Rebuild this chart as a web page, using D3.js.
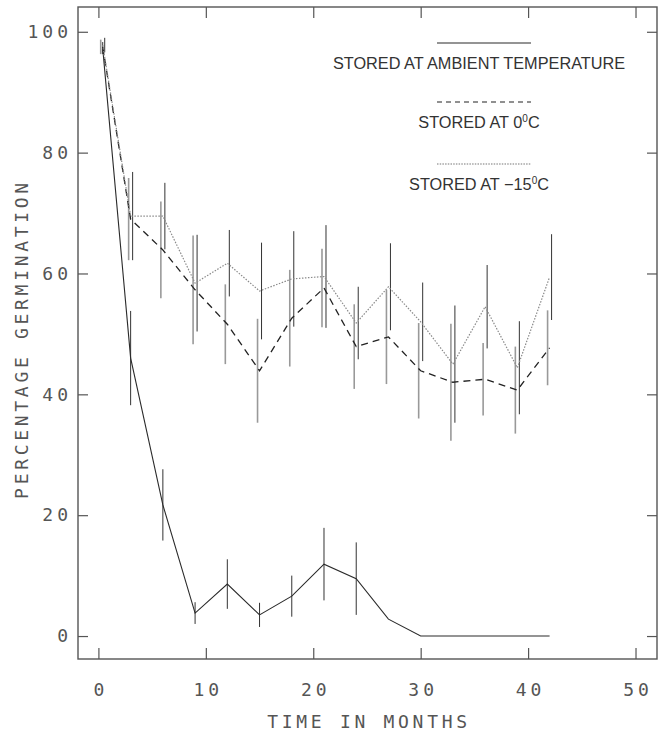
<!DOCTYPE html>
<html>
<head>
<meta charset="utf-8">
<script src="https://cdn.jsdelivr.net/npm/d3@7"></script>
<style>
  body { margin: 0; background: #fff; }
  .mono { font-family: "DejaVu Sans Mono", monospace; fill: #555; font-feature-settings: "zero"; }
  .legend text { font-family: "Liberation Sans", Arial, sans-serif; fill: #333; font-size: 16.3px; }
</style>
</head>
<body>
<script>
// Data
const monthTicks = [0, 10, 20, 30, 40, 50];
const pctTicks = [0, 20, 40, 60, 80, 100];

// stored at ambient temperature (solid)
const ambientMonths = [0.4, 3, 6, 9, 12, 15, 18, 21, 24, 27, 30, 42];
const ambientPct    = [97.3, 46, 21.7, 3.8, 8.6, 3.5, 6.6, 11.9, 9.5, 2.8, 0, 0];
const ambientErr    = [1, 7.8, 5.9, 1.8, 4.1, 2, 3.4, 6, 6, 0, 0, 0];

// stored at 0 C (dashed) and -15 C (dotted)
const coldMonths = [0.4, 3, 6, 9, 12, 15, 18, 21, 24, 27, 30, 33, 36, 39, 42];
const zeroPct    = [97.5, 69, 63.9, 57.3, 51.6, 43.9, 52.6, 57.6, 47.9, 49.5, 43.9, 42, 42.5, 40.7, 47.7];
const zeroErr    = [1.2, 6.8, 8, 9, 6.6, 8.6, 8, 6.5, 7, 7.8, 7.9, 9.7, 6, 7.2, 6.2];
const minus15Pct = [97.8, 69.5, 69.5, 58.4, 61.7, 57.1, 59.1, 59.5, 51.8, 57.8, 52, 45, 54.5, 44.4, 59.4];
const minus15Err = [1.2, 7.3, 5.5, 8, 5.5, 8, 7.9, 8.5, 6, 7.2, 6.5, 9.7, 6.9, 7.7, 7.1];

const w = 669, h = 737;
const frameL = 78, frameR = 657, frameT = 7, frameB = 659;

const svg = d3.select("body").append("svg")
  .attr("width", w)
  .attr("height", h);

const x = d3.scaleLinear().domain([-1.9, 52]).range([frameL, frameR]);
const y = d3.scaleLinear().domain([-3.8, 104.1]).range([frameB, frameT]);

// frame
svg.append("rect")
  .attr("x", frameL).attr("y", frameT)
  .attr("width", frameR - frameL).attr("height", frameB - frameT)
  .attr("fill", "none").attr("stroke", "#555").attr("stroke-width", 1.4);

// axes, ticks pointing inwards on all four sides
svg.append("g")
  .attr("class", "mono")
  .attr("transform", `translate(0,${frameB})`)
  .call(d3.axisBottom(x).tickValues(monthTicks).tickSizeInner(-11).tickSizeOuter(0).tickPadding(24))
  .selectAll("text").attr("dx", 2);
svg.append("g")
  .attr("class", "mono")
  .attr("transform", `translate(${frameL},0)`)
  .call(d3.axisLeft(y).tickValues(pctTicks).tickSizeInner(-10).tickSizeOuter(0).tickPadding(6));
svg.append("g")
  .attr("transform", `translate(0,${frameT})`)
  .call(d3.axisTop(x).tickValues(monthTicks).tickSizeInner(-11).tickSizeOuter(0).tickFormat(""));
svg.append("g")
  .attr("transform", `translate(${frameR},0)`)
  .call(d3.axisRight(y).tickValues(pctTicks).tickSizeInner(-10).tickSizeOuter(0).tickFormat(""));

svg.selectAll(".domain").remove();
svg.selectAll(".tick line").attr("stroke", "#555").attr("stroke-width", 1.2);
svg.selectAll(".mono text")
  .attr("fill", "#555")
  .style("font-size", "18px")
  .style("letter-spacing", "4px");

// axis titles
svg.append("text")
  .attr("class", "mono")
  .attr("x", 369).attr("y", 728)
  .attr("text-anchor", "middle")
  .style("font-size", "18px")
  .style("letter-spacing", "3.7px")
  .text("TIME IN MONTHS");

svg.append("text")
  .attr("class", "mono")
  .attr("transform", "translate(28,339) rotate(-90)")
  .attr("text-anchor", "middle")
  .style("font-size", "18px")
  .style("letter-spacing", "3.7px")
  .text("PERCENTAGE GERMINATION");

// helpers
function series(months, vals) {
  return months.map((m, i) => ({ m: m, v: vals[i] }));
}
function drawBars(months, vals, errs, dx, color, width) {
  svg.append("g").selectAll("line")
    .data(months.map((m, i) => ({ m: m, v: vals[i], e: errs[i] })).filter(d => d.e > 0))
    .join("line")
    .attr("x1", d => x(d.m) + dx).attr("x2", d => x(d.m) + dx)
    .attr("y1", d => y(d.v + d.e)).attr("y2", d => y(d.v - d.e))
    .attr("stroke", color).attr("stroke-width", width);
}
const line = d3.line().x(d => x(d.m)).y(d => y(d.v));

// error bars
drawBars(coldMonths, zeroPct, zeroErr, -2, "#999", 1.6);
drawBars(coldMonths, minus15Pct, minus15Err, 2, "#333", 1);
drawBars(ambientMonths, ambientPct, ambientErr, 0, "#333", 1);

// lines
svg.append("path")
  .datum(series(ambientMonths, ambientPct))
  .attr("d", line)
  .attr("fill", "none").attr("stroke", "#2a2a2a").attr("stroke-width", 1.1);

svg.append("path")
  .datum(series(coldMonths, zeroPct))
  .attr("d", line)
  .attr("fill", "none").attr("stroke", "#222").attr("stroke-width", 1.3)
  .attr("stroke-dasharray", "7,5");

svg.append("path")
  .datum(series(coldMonths, minus15Pct))
  .attr("d", line)
  .attr("fill", "none").attr("stroke", "#8a8a8a").attr("stroke-width", 1.2)
  .attr("stroke-dasharray", "1.5,1.5");

// legend
const legend = svg.append("g").attr("class", "legend");
const legendItems = [
  { y: 43, dash: null, color: "#2a2a2a", label: ["STORED AT AMBIENT TEMPERATURE"] },
  { y: 102, dash: "5,4", color: "#222", label: ["STORED AT 0", "0", "C"] },
  { y: 164, dash: "1.5,1.2", color: "#777", label: ["STORED AT \u221215", "0", "C"] }
];
legendItems.forEach(it => {
  legend.append("line")
    .attr("x1", 437).attr("x2", 531)
    .attr("y1", it.y).attr("y2", it.y)
    .attr("stroke", it.color).attr("stroke-width", 1.2)
    .attr("stroke-dasharray", it.dash);
  const t = legend.append("text")
    .attr("x", 479).attr("y", it.y + 26)
    .attr("text-anchor", "middle");
  t.append("tspan").text(it.label[0]);
  if (it.label.length > 1) {
    t.append("tspan").attr("dy", -6).style("font-size", "10px").text(it.label[1]);
    t.append("tspan").attr("dy", 6).text(it.label[2]);
  }
});
</script>
</body>
</html>
